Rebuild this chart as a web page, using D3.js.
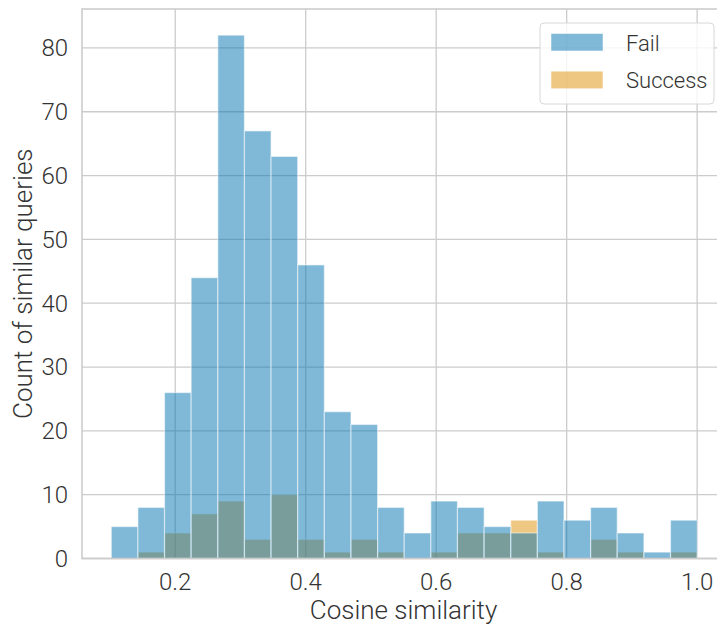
<!DOCTYPE html>
<html>
<head>
<meta charset="utf-8">
<script src="https://cdn.jsdelivr.net/npm/d3@7"></script>
<style>
  body { margin: 0; background: #fff; }
  svg { display: block; font-family: Roboto, "Open Sans", sans-serif; font-weight: 300; }
</style>
</head>
<body>
<div id="chart"></div>
<script>
// histogram bin edges (cosine similarity)
const binEdges = [0.102, 0.1428, 0.1836, 0.2244, 0.2653, 0.3061, 0.3469, 0.3877, 0.4286, 0.4694,
  0.5102, 0.5510, 0.5918, 0.6326, 0.6735, 0.7143, 0.7551, 0.7959, 0.8367, 0.8775, 0.9184, 0.9592, 1.000];
const failCounts = [5, 8, 26, 44, 82, 67, 63, 46, 23, 21, 8, 4, 9, 8, 5, 4, 9, 6, 8, 4, 1, 6];
const successCounts = [0, 1, 4, 7, 9, 3, 10, 3, 1, 3, 1, 0, 1, 4, 4, 6, 1, 0, 3, 1, 0, 1];
const xTicks = [0.2, 0.4, 0.6, 0.8, 1.0];
const yTicks = [0, 10, 20, 30, 40, 50, 60, 70, 80];
const seriesNames = ["Fail", "Success"];
const seriesColors = ["#0173b2", "#de8f05"];

const width = 717, height = 630;
const margin = {top: 9, left: 82, bottom: 71.5, right: -9.5};
const iwidth = width - margin.left - margin.right;
const iheight = height - margin.top - margin.bottom;

const svg = d3.select("#chart").append("svg")
  .attr("width", width).attr("height", height);

const g = svg.append("g").attr("transform", `translate(${margin.left},${margin.top})`);

const x = d3.scaleLinear().domain([0.0571, 1.045]).range([0, iwidth]);
const y = d3.scaleLinear().domain([0, 86.1]).range([iheight, 0]);

// grid
g.append("g").selectAll("line").data(yTicks).enter().append("line")
  .attr("x1", 0).attr("x2", iwidth)
  .attr("y1", d => y(d)).attr("y2", d => y(d))
  .attr("stroke", "#cccccc").attr("stroke-width", 1.3);
g.append("g").selectAll("line").data(xTicks).enter().append("line")
  .attr("y1", 0).attr("y2", iheight)
  .attr("x1", d => x(d)).attr("x2", d => x(d))
  .attr("stroke", "#cccccc").attr("stroke-width", 1.3);

// bars: success first, fail on top
const bins = failCounts.map((f, i) => ({x0: binEdges[i], x1: binEdges[i + 1], fail: f, success: successCounts[i]}));

[["success", 1], ["fail", 0]].forEach(([key, ci]) => {
  g.append("g").selectAll("rect").data(bins.filter(d => d[key] > 0)).enter().append("rect")
    .attr("x", d => x(d.x0))
    .attr("y", d => y(d[key]))
    .attr("width", d => x(d.x1) - x(d.x0))
    .attr("height", d => iheight - y(d[key]))
    .attr("fill", seriesColors[ci])
    .attr("fill-opacity", 0.5)
    .attr("stroke", "#ffffff")
    .attr("stroke-opacity", 0.5)
    .attr("stroke-width", 1.2);
});

// spines
g.append("rect").attr("x", 0).attr("y", 0).attr("width", iwidth).attr("height", iheight)
  .attr("fill", "none").attr("stroke", "#cccccc").attr("stroke-width", 1.6);

// tick labels
g.append("g").selectAll("text").data(xTicks).enter().append("text")
  .attr("x", d => x(d)).attr("y", iheight + 31.5)
  .attr("text-anchor", "middle").attr("font-size", 24).attr("fill", "#333")
  .text(d => d.toFixed(1));
g.append("g").selectAll("text").data(yTicks).enter().append("text")
  .attr("x", -14).attr("y", d => y(d)).attr("dy", "0.35em")
  .attr("text-anchor", "end").attr("font-size", 24).attr("fill", "#333")
  .text(d => d);

// axis titles
svg.append("text").attr("x", margin.left + x(0.55)).attr("y", 619)
  .attr("text-anchor", "middle").attr("font-size", 26).attr("fill", "#333")
  .text("Cosine similarity");
svg.append("text").attr("transform", `translate(32,${margin.top + iheight / 2}) rotate(-90)`)
  .attr("text-anchor", "middle").attr("font-size", 26).attr("fill", "#333")
  .text("Count of similar queries");

// legend
const lg = svg.append("g").attr("transform", "translate(540,23)");
lg.append("rect").attr("width", 174).attr("height", 81).attr("rx", 4)
  .attr("fill", "#fff").attr("fill-opacity", 0.8)
  .attr("stroke", "#d8d8d8").attr("stroke-width", 1);
seriesNames.forEach((name, i) => {
  lg.append("rect").attr("x", 11).attr("y", 10.5 + i * 37.7).attr("width", 52).attr("height", 17.5)
    .attr("fill", seriesColors[i]).attr("fill-opacity", 0.5)
    .attr("stroke", "#fff").attr("stroke-opacity", 0.5);
  lg.append("text").attr("x", 86).attr("y", 28 + i * 37.3)
    .attr("font-size", 22).attr("fill", "#333").text(name);
});
</script>
</body>
</html>
